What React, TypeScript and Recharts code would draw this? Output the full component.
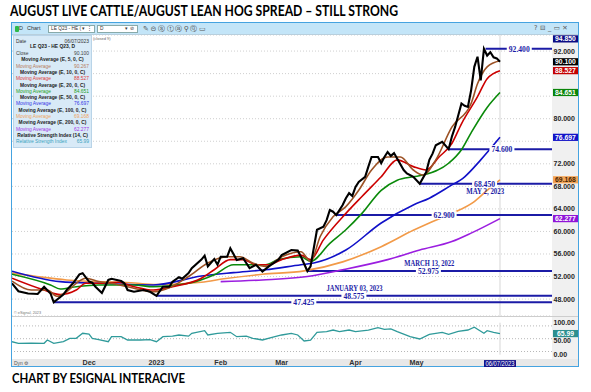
import React from 'react';
import {
  ComposedChart, Line, Scatter, XAxis, YAxis, CartesianGrid, ReferenceLine,
} from 'recharts';

// trading-day index (0 = late Oct 2022, 152 = 06/07/2023) and values
const closeDay = [0, 2, 5, 8, 10, 12, 13, 16, 17, 19, 21, 22, 24, 25, 26, 28, 30, 31, 34, 35, 36, 38, 41, 43, 45, 47, 49, 50, 52, 53, 55, 56, 59, 60, 61, 63, 64, 65, 67, 68, 70, 72, 74, 76, 78, 80, 83, 84, 87, 89, 90, 92, 93, 95, 97, 98, 99, 100, 101, 103, 104, 105, 106, 107, 108, 110, 111, 112, 114, 115, 116, 117, 118, 119, 120, 122, 123, 125, 127, 129, 130, 131, 132, 134, 136, 137, 138, 140, 141, 142, 143, 144, 145, 146, 147, 148, 149, 150, 151, 152];
const closeVal = [50.8, 49.4, 49.0, 48.9, 50.2, 49.0, 47.425, 48.8, 49.6, 50.8, 52.4, 52.6, 51.1, 50.9, 50.2, 49.1, 51.4, 51.6, 51.2, 50.8, 49.6, 49.3, 49.6, 49.3, 48.575, 50.2, 50.2, 51.1, 51.9, 51.6, 52.6, 53.5, 55.0, 55.7, 53.8, 55.1, 54.1, 55.5, 55.5, 57.0, 54.95, 55.25, 53.5, 54.1, 52.9, 53.8, 55.0, 55.8, 56.7, 56.6, 55.5, 52.975, 53.8, 60.3, 60.85, 62.0, 63.8, 63.5, 62.9, 64.7, 65.9, 66.8, 66.3, 67.9, 68.8, 69.7, 71.5, 73.2, 73.2, 72.1, 73.2, 74.1, 73.4, 73.9, 72.9, 70.9, 70.3, 69.7, 68.45, 70.5, 72.7, 73.8, 75.3, 75.9, 74.6, 76.8, 78.5, 82.7, 82.3, 82.1, 85.0, 89.2, 91.0, 86.8, 92.4, 91.2, 91.8, 90.9, 90.7, 90.1];

const ma5Day = [0, 6, 11, 14, 17, 20, 23, 27, 31, 36, 44, 48, 55, 61, 67, 71, 75, 79, 84, 90, 93, 96, 100, 104, 108, 112, 117, 121, 125, 128, 132, 137, 143, 145, 148, 152];
const ma5Val = [51.2, 49.6, 49.6, 48.5, 49.3, 50.8, 51.7, 51.1, 50.8, 50.2, 49.3, 49.8, 52.0, 54.4, 55.5, 55.5, 54.4, 53.8, 55.5, 56.4, 54.7, 59.1, 62.6, 64.4, 67.3, 70.9, 73.2, 73.2, 70.9, 70.0, 72.7, 78.5, 82.7, 86.2, 89.2, 90.267];

const ma10Day = [0, 10, 15, 20, 23, 27, 33, 38, 44, 50, 59, 63, 68, 72, 76, 80, 84, 90, 93, 97, 104, 109, 115, 120, 125, 129, 133, 137, 140, 145, 148, 152];
const ma10Val = [51.7, 49.6, 48.8, 49.6, 50.8, 50.8, 51.0, 50.2, 49.6, 50.2, 51.7, 53.2, 55.0, 55.0, 54.1, 54.1, 55.0, 55.8, 55.0, 58.5, 63.2, 66.2, 69.7, 72.7, 71.5, 70.9, 73.2, 75.6, 79.1, 83.9, 87.1, 88.527];

const ma20Day = [0, 12, 15, 20, 27, 38, 44, 55, 63, 69, 75, 79, 83, 90, 93, 99, 104, 109, 115, 120, 125, 128, 136, 140, 143, 148, 152];
const ma20Val = [52.4, 50.5, 49.8, 50.2, 50.5, 50.5, 50.2, 50.8, 52.3, 54.1, 54.1, 54.1, 55.0, 55.5, 54.7, 57.9, 60.3, 63.2, 67.3, 69.1, 69.7, 70.0, 72.1, 74.5, 77.5, 82.0, 84.651];

const ma50Day = [0, 15, 27, 44, 59, 69, 79, 90, 94, 104, 115, 125, 130, 136, 141, 146, 152];
const ma50Val = [52.95, 51.1, 50.8, 50.5, 52.1, 52.7, 53.2, 54.1, 54.4, 56.7, 61.5, 64.7, 65.9, 67.9, 69.7, 72.7, 76.697];

const ma100Day = [0, 17, 37, 45, 59, 66, 78, 91, 103, 115, 125, 130, 137, 144, 148, 152];
const ma100Val = [52.6, 51.4, 50.9, 50.6, 51.0, 51.6, 52.4, 53.0, 54.6, 57.3, 60.2, 61.5, 63.2, 65.3, 67.3, 69.168];

const ma200Day = [65, 78, 92, 103, 117, 127, 137, 143, 152];
const ma200Val = [51.1, 51.4, 52.0, 53.2, 55.0, 56.7, 58.2, 59.7, 62.277];

const rsiDay = [0, 2, 6, 10, 11, 13, 16, 18, 20, 22, 24, 25, 27, 30, 31, 34, 36, 40, 43, 45, 47, 50, 52, 55, 56, 60, 61, 64, 68, 70, 73, 75, 78, 81, 84, 87, 89, 91, 93, 95, 98, 100, 102, 105, 107, 111, 114, 116, 118, 120, 124, 127, 130, 134, 136, 139, 142, 144, 147, 148, 150, 152];
const rsiVal = [40.6, 35.6, 36.4, 35.6, 46, 35.6, 41.1, 51.2, 51.2, 66.9, 64.3, 51.2, 47.4, 40.6, 56.3, 56.3, 46, 46, 47.4, 40.6, 56.3, 58, 61.6, 58, 66.9, 75, 61.6, 66.9, 70, 56.3, 58, 51.2, 46, 53.8, 61.6, 66.9, 61.6, 42.8, 45.3, 70, 72, 77.2, 72, 77.2, 72, 76.9, 84.3, 79, 80.6, 72, 56.3, 49.1, 63.2, 70, 63.8, 72.7, 77.2, 85.7, 66.9, 75, 70, 65.99];

// horizontal support / resistance levels
const levelVal = [92.4, 74.6, 68.45, 62.9, 52.975, 48.575, 47.425];
const levelFrom = [147.5, 136, 127, 101, 92, 45, 13];
const levelText = ['92.400', '74.600', '68.450', '62.900', '52.975', '48.575', '47.425'];
const noteText = ['MAY 2, 2023', 'MARCH 13, 2022', 'JANUARY 03, 2023'];
const noteLevel = [68.45, 52.975, 48.575];

// last values shown on the price scale
const boxVal = [94.85, 90.1, 88.527, 84.651, 76.697, 69.168, 62.277];
const boxColor = ['#0c0c84', '#000000', '#c40000', '#0a850a', '#1414c8', '#f2a458', '#8f14d8'];

const monthTicks = [24, 45, 65, 84, 107, 126, 152];
const monthLabels = ['Dec', '2023', 'Feb', 'Mar', 'Apr', 'May', '06/07/2023'];

const priceTicks = [48, 52, 56, 60, 64, 68, 72, 76, 80, 84, 88, 92];
const hiddenTicks = [76, 84, 88];

const X_MAX = 168.2;
const NAVY = '#1b1ba6';

const rows = (days: number[], vals: number[]) => days.map((t, i) => ({ t, v: vals[i] }));

const closeRows = rows(closeDay, closeVal);
const ma5Rows = rows(ma5Day, ma5Val);
const ma10Rows = rows(ma10Day, ma10Val);
const ma20Rows = rows(ma20Day, ma20Val);
const ma50Rows = rows(ma50Day, ma50Val);
const ma100Rows = rows(ma100Day, ma100Val);
const ma200Rows = rows(ma200Day, ma200Val);
const rsiRows = rows(rsiDay, rsiVal);

// label placement (x in trading days, width in px)
const levelLabelX = [158, 152.6, 147.2, 134.6, 129.7, 106.5, 90.9];
const noteX = [147.4, 130, 106.7];
const noteDy = [7.6, -7.4, -7.8];
const noteW = [38, 50, 56];

const levelLabelRows = levelVal.map((v, i) => ({ t: levelLabelX[i], v, text: levelText[i] }));
const noteRows = noteLevel.map((v, i) => ({ t: noteX[i], v, text: noteText[i], dy: noteDy[i], w: noteW[i] }));
const boxRows = boxVal.map((v, i) => ({
  t: X_MAX, v, text: v.toFixed(3), bg: boxColor[i], fg: i === 5 ? '#4a2400' : '#ffffff',
}));
const rsiBoxRows = [{ t: X_MAX, v: rsiVal[rsiVal.length - 1], text: '65.99', bg: '#2d8f8f', fg: '#ffffff' }];

const axisFont = '"Liberation Sans", Arial, sans-serif';
const serifFont = '"Liberation Serif", "Times New Roman", serif';

function PriceTick(props: any) {
  const { x, y, payload } = props;
  if (hiddenTicks.includes(payload.value)) return <g />;
  return (
    <text x={x + 1.5} y={y + 2.5} fontSize={7} fontWeight="bold" fill="#262626" fontFamily={axisFont}>
      {payload.value.toFixed(3)}
    </text>
  );
}

function RsiTick(props: any) {
  const { x, y, payload } = props;
  const shift = payload.value === 50 ? 1.8 : 0;
  return (
    <text x={x + 1.5} y={y + 2.5 + shift} fontSize={7} fontWeight="bold" fill="#262626" fontFamily={axisFont}>
      {payload.value.toFixed(2)}
    </text>
  );
}

function DateTick(props: any) {
  const { x, y, payload } = props;
  const i = monthTicks.indexOf(payload.value);
  const text = monthLabels[i];
  if (payload.value === 152) {
    return (
      <g>
        <rect x={x - 16} y={y + 5.4} width={32} height={7.4} fill="#12128c" />
        <text x={x} y={y + 11.2} textAnchor="middle" fontSize={6.6} fill="#ffffff" fontFamily={axisFont}
          textLength={29} lengthAdjust="spacingAndGlyphs">{text}</text>
      </g>
    );
  }
  return (
    <text x={x} y={y + 10.6} textAnchor="middle" fontSize={7.2} fontWeight="bold" fill="#303030" fontFamily={axisFont}>
      {text}
    </text>
  );
}

function AxisBox(props: any) {
  const { cx, cy, payload } = props;
  const top = Math.max(cy - 3.6, 0.3);
  return (
    <g>
      <rect x={cx + 1} y={top} width={25} height={7.2} fill={payload.bg} />
      <text x={cx + 13.5} y={top + 5.8} textAnchor="middle" fontSize={6.8} fontWeight="bold" fill={payload.fg} fontFamily={axisFont}>
        {payload.text}
      </text>
    </g>
  );
}

function LevelLabel(props: any) {
  const { cx, cy, payload } = props;
  return (
    <g>
      <rect x={cx - 12.5} y={cy - 4} width={25} height={8} fill="#ffffff" />
      <text x={cx} y={cy + 2.7} textAnchor="middle" fontSize={7.6} fontWeight="bold" fill={NAVY}
        fontFamily={serifFont} textLength={21} lengthAdjust="spacingAndGlyphs">
        {payload.text}
      </text>
    </g>
  );
}

function NoteLabel(props: any) {
  const { cx, cy, payload } = props;
  return (
    <text x={cx} y={cy + payload.dy + 2.5} textAnchor="middle" fontSize={7.2} fontWeight="bold" fill={NAVY}
      fontFamily={serifFont} textLength={payload.w} lengthAdjust="spacingAndGlyphs">
      {payload.text}
    </text>
  );
}

const dataWindow: [string, string, string, boolean, number][] = [
  ['Date', '06/07/2023', '#333', false, 40.7],
  ['LE Q23 - HE Q23, D', '', '#222', true, 45.9],
  ['Close', '90.100', '#444', false, 53.3],
  ['Moving Average (E, 5, 0, C)', '', '#222', true, 59.5],
  ['Moving Average', '90.267', '#b77a5a', false, 65.8],
  ['Moving Average (E, 10, 0, C)', '', '#222', true, 72.2],
  ['Moving Average', '88.527', '#e03a3a', false, 78.4],
  ['Moving Average (E, 20, 0, C)', '', '#222', true, 84.8],
  ['Moving Average', '84.651', '#22a022', false, 91.1],
  ['Moving Average (E, 50, 0, C)', '', '#222', true, 97.4],
  ['Moving Average', '76.697', '#3434e4', false, 103.6],
  ['Moving Average (E, 100, 0, C)', '', '#222', true, 110],
  ['Moving Average', '69.168', '#f0a35c', false, 116.3],
  ['Moving Average (E, 200, 0, C)', '', '#222', true, 122.6],
  ['Moving Average', '62.277', '#a236e6', false, 128.9],
  ['Relative Strength Index (14, C)', '', '#222', true, 135.3],
  ['Relative Strength Index', '65.99', '#3aa2bd', false, 141.6],
];

const abs = (left: number, top: number, width: number, height: number, extra: React.CSSProperties = {}): React.CSSProperties => ({
  position: 'absolute', left, top, width, height, ...extra,
});

export default function App() {
  return (
    <div style={{ position: 'absolute', left: 0, top: 0, width: 591, height: 392, background: '#fff', overflow: 'hidden', fontFamily: axisFont }}>
      <svg width={591} height={392} style={{ position: 'absolute', left: 0, top: 0 }}>
        <text x={10} y={15.5} fontFamily="Lato, 'Open Sans', sans-serif" fontWeight={700} fontSize={14.5} fill="#000"
          textLength={388} lengthAdjust="spacingAndGlyphs">
          AUGUST LIVE CATTLE/AUGUST LEAN HOG SPREAD – STILL STRONG
        </text>
        <text x={12} y={382.5} fontFamily="Lato, 'Open Sans', sans-serif" fontWeight={700} fontSize={12.5} fill="#000"
          textLength={173} lengthAdjust="spacingAndGlyphs">
          CHART BY ESIGNAL INTERACIVE
        </text>
      </svg>

      {/* window frame and toolbar */}
      <div style={abs(11, 22, 568, 345, { border: '1px solid #45a3e0', borderRightWidth: 2, boxSizing: 'border-box' })} />
      <div style={abs(12, 23, 566, 11.5, { background: '#c3e5f8', borderBottom: '1px solid #b8cfdd', boxSizing: 'border-box' })}>
        <div style={abs(3, 2.5, 3.5, 6, { background: '#2fb84a', borderRadius: 1 })} />
        <div style={abs(7, 1.5, 10, 8, { fontSize: 5.5, color: '#333' })}>D</div>
        <div style={abs(15, 1.8, 20, 8, { fontSize: 5.5, color: '#333' })}>Chart</div>
        <div style={abs(36, 1.5, 47, 8, { background: '#fff', border: '1px solid #8aa', boxSizing: 'border-box', fontSize: 4.8, color: '#333', paddingLeft: 2, lineHeight: '6px', whiteSpace: 'nowrap' })}>LE Q23 - HE ( ▾ ⋮</div>
        <div style={abs(85, 1.5, 41, 8, { background: '#fff', border: '1px solid #8aa', boxSizing: 'border-box', fontSize: 4.8, color: '#333', paddingLeft: 2, lineHeight: '6px', whiteSpace: 'nowrap' })}>D<span style={{ marginLeft: 22 }}>▾ ⊘</span></div>
        <div style={abs(131, 0.5, 80, 10, { fontSize: 7, color: '#555', fontFamily: '"DejaVu Sans", sans-serif', letterSpacing: 1.6, whiteSpace: 'nowrap' })}>✎⊝ⓢⓣⓐ⚲ⓠ▭</div>
        <div style={abs(522, 0.5, 44, 10, { fontSize: 6.5, color: '#555', fontFamily: '"DejaVu Sans", sans-serif', letterSpacing: 2.5, whiteSpace: 'nowrap' })}>?⊟_▭✕</div>
      </div>

      {/* scale column, pane separator, date band */}
      <div style={abs(552, 34.5, 26, 324, { background: '#f0f0f0' })} />
      <div style={abs(12, 315.8, 566, 1.5, { background: '#cdcdcd' })} />
      <div style={abs(12, 358.6, 566, 7.6, { background: '#e8e8e8' })} />
      <div style={abs(14, 359.5, 20, 7, { fontSize: 5, color: '#555' })}>Dyn ⚙</div>
      <div style={abs(14, 311.2, 40, 5, { fontSize: 3.8, color: '#777' })}>© eSignal, 2023</div>
      <div style={abs(93, 36, 40, 5, { fontSize: 4, color: '#666' })}>(closed 9)</div>

      {/* price pane */}
      <div style={abs(12, 35, 566, 281)}>
        <ComposedChart width={566} height={281} data={closeRows} margin={{ top: 0, right: 0, bottom: 0, left: 0 }}>
          <CartesianGrid vertical={false} stroke="#cfcfcf" strokeDasharray="1 2" />
          <XAxis type="number" dataKey="t" domain={[0, X_MAX]} hide />
          <YAxis orientation="right" width={26} domain={[45, 94.85]} ticks={priceTicks} interval={0}
            axisLine={false} tickLine={false} tickSize={0} tickMargin={0} tick={<PriceTick />} />
          <ReferenceLine x={152} stroke="#d6d6d6" strokeWidth={1} />
          {levelVal.map((v, i) => (
            <ReferenceLine key={levelText[i]} segment={[{ x: levelFrom[i], y: v }, { x: X_MAX, y: v }]}
              stroke={NAVY} strokeWidth={2} />
          ))}
          <Line data={ma200Rows} dataKey="v" type="monotone" stroke="#9b1ee0" strokeWidth={1.6} dot={false} isAnimationActive={false} />
          <Line data={ma100Rows} dataKey="v" type="monotone" stroke="#f29a48" strokeWidth={1.6} dot={false} isAnimationActive={false} />
          <Line data={ma50Rows} dataKey="v" type="monotone" stroke="#1010c8" strokeWidth={1.6} dot={false} isAnimationActive={false} />
          <Line data={ma20Rows} dataKey="v" type="monotone" stroke="#0a8a0a" strokeWidth={1.6} dot={false} isAnimationActive={false} />
          <Line data={ma10Rows} dataKey="v" type="monotone" stroke="#cc0000" strokeWidth={1.6} dot={false} isAnimationActive={false} />
          <Line data={ma5Rows} dataKey="v" type="monotone" stroke="#9c5225" strokeWidth={1.6} dot={false} isAnimationActive={false} />
          <Line dataKey="v" type="linear" stroke="#000000" strokeWidth={2.1} dot={false} isAnimationActive={false} />
          <Scatter data={levelLabelRows} dataKey="v" shape={<LevelLabel />} isAnimationActive={false} />
          <Scatter data={noteRows} dataKey="v" shape={<NoteLabel />} isAnimationActive={false} />
          <Scatter data={boxRows} dataKey="v" shape={<AxisBox />} isAnimationActive={false} />
        </ComposedChart>
      </div>

      {/* RSI pane with date axis */}
      <div style={abs(12, 317, 566, 50)}>
        <ComposedChart width={566} height={50} data={rsiRows} margin={{ top: 5.7, right: 0, bottom: 0, left: 0 }}>
          <XAxis type="number" dataKey="t" domain={[0, X_MAX]} ticks={monthTicks} interval={0} height={12.3}
            axisLine={false} tickLine={false} tickSize={0} tickMargin={0} tick={<DateTick />} />
          <YAxis orientation="right" width={26} domain={[0, 100]} ticks={[0, 50, 100]} interval={0}
            axisLine={false} tickLine={false} tickSize={0} tickMargin={0} tick={<RsiTick />} />
          {[90, 50, 10].map((v) => (
            <ReferenceLine key={v} y={v} stroke="#b8b8b8" strokeDasharray="1 2" />
          ))}
          <ReferenceLine x={152} stroke="#d6d6d6" strokeWidth={1} />
          <Line dataKey="v" type="linear" stroke="#2f9a9a" strokeWidth={1.3} dot={false} isAnimationActive={false} />
          <Scatter data={rsiBoxRows} dataKey="v" shape={<AxisBox />} isAnimationActive={false} />
        </ComposedChart>
      </div>

      {/* data window */}
      <div style={abs(13, 35, 79, 113, { background: '#d8eaf7', border: '1px solid #b9d4e8', boxSizing: 'border-box' })}>
        {dataWindow.map(([l, r, c, bold, y], i) => (
          <div key={i} style={abs(2, y - 35 - 3.2, 73, 6, {
            fontSize: 4.9, lineHeight: '6px', color: c, fontWeight: bold ? 700 : 400,
            textAlign: bold ? 'center' : 'left', whiteSpace: 'nowrap',
          })}>
            {l}
            {r && <span style={{ position: 'absolute', right: 0, top: 0 }}>{r}</span>}
          </div>
        ))}
      </div>
    </div>
  );
}
